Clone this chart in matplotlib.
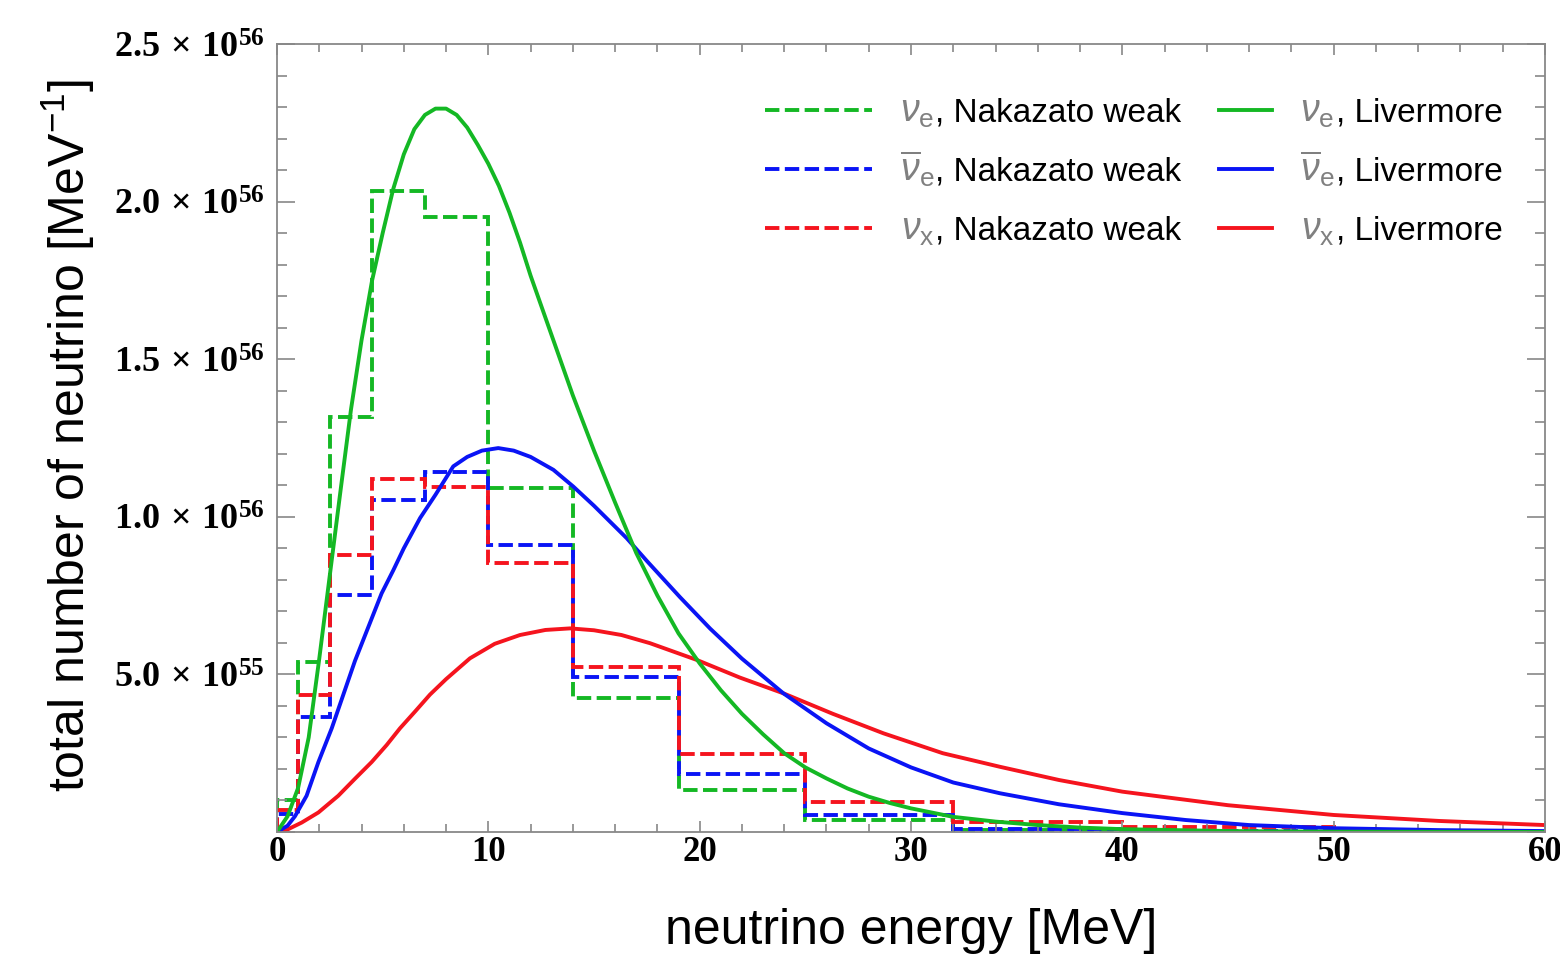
import numpy as np
import matplotlib.pyplot as plt
from matplotlib.ticker import MultipleLocator, FuncFormatter

plt.rcParams['font.family'] = 'Liberation Sans'
plt.rcParams['mathtext.fontset'] = 'custom'
plt.rcParams['mathtext.rm'] = 'Liberation Sans'
plt.rcParams['mathtext.it'] = 'Liberation Sans:italic'
plt.rcParams['mathtext.bf'] = 'Liberation Serif:bold'

UNIT = 1e56

# Nakazato weak model (binned), in units of 1e56 / MeV
bin_edges = [0, 1, 2.5, 4.5, 7, 10, 14, 19, 25, 32, 40, 50]
nak_nue = [0.100, 0.540, 1.317, 2.033, 1.950, 1.090, 0.424, 0.133, 0.038, 0.005, 0.001]
nak_nuebar = [0.057, 0.364, 0.752, 1.054, 1.142, 0.911, 0.492, 0.185, 0.054, 0.010, 0.002]
nak_nux = [0.070, 0.435, 0.879, 1.120, 1.094, 0.854, 0.523, 0.249, 0.094, 0.033, 0.015]

# Livermore model, in units of 1e56 / MeV
e_nue = [0, 0.5, 1.0, 1.5, 2.0, 2.5, 3.0, 3.5, 4.0, 4.5, 5.0, 5.5, 6.0, 6.5, 7.0, 7.5,
         8.0, 8.5, 9.0, 9.5, 10.0, 10.5, 11.0, 11.5, 12.0, 13, 14, 15, 16, 17, 18,
         19, 20, 21, 22, 23, 24, 25, 26, 27, 28, 29, 30, 32, 34, 36, 38, 40, 45, 50, 60]
liv_nue = [0, 0.05, 0.14, 0.30, 0.55, 0.815, 1.08, 1.34, 1.56, 1.75, 1.90, 2.04, 2.15,
           2.23, 2.275, 2.295, 2.295, 2.275, 2.235, 2.18, 2.12, 2.05, 1.965, 1.87,
           1.765, 1.575, 1.385, 1.21, 1.045, 0.885, 0.75, 0.63, 0.535, 0.45, 0.375,
           0.31, 0.25, 0.205, 0.17, 0.138, 0.112, 0.092, 0.075, 0.048, 0.033, 0.022,
           0.014, 0.009, 0.003, 0.001, 0.0]

e_nuebar = [0, 0.5, 0.85, 1.4, 1.96, 2.59, 3.14, 3.69, 4.32, 4.95, 5.5, 6.0, 6.77, 7.5,
            8.34, 9.0, 9.7, 10.47, 11.2, 12.0, 13.08, 14.02, 15.0, 16.55, 17.5, 19.07,
            20.5, 22.0, 23.96, 26.0, 28.0, 30.0, 32.0, 34.2, 37.0, 40, 43, 46, 50, 55, 60]
liv_nuebar = [0, 0.02, 0.05, 0.115, 0.222, 0.329, 0.436, 0.543, 0.65, 0.757, 0.83, 0.90,
              0.996, 1.07, 1.16, 1.19, 1.21, 1.218, 1.21, 1.19, 1.149, 1.096, 1.035,
              0.932, 0.86, 0.745, 0.645, 0.55, 0.44, 0.345, 0.265, 0.205, 0.157, 0.123,
              0.088, 0.06, 0.038, 0.022, 0.012, 0.006, 0.003]

e_nux = [0, 0.5, 1.17, 1.96, 2.9, 3.69, 4.48, 5.19, 5.82, 6.53, 7.24, 8.0, 9.13, 10.3,
         11.5, 12.7, 13.87, 15.0, 16.3, 17.65, 19.86, 21.9, 23.96, 26.3, 28.7, 31.5,
         34.2, 37.0, 40, 45, 50, 55, 60]
liv_nux = [0, 0.008, 0.03, 0.062, 0.115, 0.169, 0.222, 0.276, 0.329, 0.382, 0.436, 0.485,
           0.551, 0.597, 0.625, 0.641, 0.646, 0.64, 0.625, 0.599, 0.546, 0.49, 0.44,
           0.375, 0.313, 0.25, 0.207, 0.165, 0.128, 0.085, 0.054, 0.035, 0.022]

green = '#14b824'
blue = '#0a14f5'
red = '#f5141e'
lw = 2.8
dash = (3.7, 1.4)

fig = plt.figure(figsize=(15.6, 9.59), dpi=100)
ax = fig.add_axes([277 / 1560, 1 - 832 / 959, 1268 / 1560, 788 / 959])

edges = np.array(bin_edges)
h_nue = ax.stairs(np.array(nak_nue) * UNIT, edges, color=green, lw=lw, linestyle=(0, dash), baseline=0)
h_nuebar = ax.stairs(np.array(nak_nuebar) * UNIT, edges, color=blue, lw=lw, linestyle=(0, dash), baseline=0)
h_nux = ax.stairs(np.array(nak_nux) * UNIT, edges, color=red, lw=lw, linestyle=(0, dash), baseline=0)

l_nux, = ax.plot(e_nux, np.array(liv_nux) * UNIT, color=red, lw=lw)
l_nuebar, = ax.plot(e_nuebar, np.array(liv_nuebar) * UNIT, color=blue, lw=lw)
l_nue, = ax.plot(e_nue, np.array(liv_nue) * UNIT, color=green, lw=lw)

ax.set_xlim(0, 60)
ax.set_ylim(0, 2.5e56)

ax.xaxis.set_major_locator(MultipleLocator(10))
ax.xaxis.set_minor_locator(MultipleLocator(2))
ax.yaxis.set_major_locator(MultipleLocator(5e55))
ax.yaxis.set_minor_locator(MultipleLocator(1e55))


def sci_label(v, pos):
    if v <= 0:
        return ''
    ex = int(np.floor(np.log10(v) + 1e-9))
    mant = round(v / 10 ** ex, 1)
    return r'$\mathbf{%.1f\,\times\,10^{%d}}$' % (mant, ex)


ax.yaxis.set_major_formatter(FuncFormatter(sci_label))
ax.xaxis.set_major_formatter(FuncFormatter(lambda v, p: '%d' % v))

for lab in ax.get_xticklabels():
    lab.set_fontfamily('Liberation Serif')
    lab.set_fontweight('bold')
ax.tick_params(axis='x', labelsize=25, pad=3)
ax.tick_params(axis='y', labelsize=26, pad=9)
ax.tick_params(which='both', direction='in', top=True, right=True, color='#888888', width=1.2)
ax.tick_params(axis='y', which='major', length=13)
ax.tick_params(axis='y', which='minor', length=7)
ax.tick_params(axis='x', which='major', length=8)
ax.tick_params(axis='x', which='minor', length=5.5)
for s in ax.spines.values():
    s.set_color('#888888')
    s.set_linewidth(1.3)

ax.set_xlabel('neutrino energy [MeV]', fontsize=36, labelpad=28)
ax.set_ylabel('total number of neutrino [MeV$^{-1}$]', fontsize=36)
ax.yaxis.set_label_coords(-0.142, 0.503)

# legends: dashed (Nakazato) and solid (Livermore) columns
syms = [r'$\nu_\mathrm{e}$', r'$\overline{\nu}_\mathrm{e}$', r'$\nu_\mathrm{x}$']
leg_kw = dict(loc='upper right', frameon=False, fontsize=24, handletextpad=1.9,
              labelspacing=0.84)
leg1 = ax.legend([h_nue, h_nuebar, h_nux], [', Nakazato weak'] * 3,
                 bbox_to_anchor=(0.737, 0.97), handlelength=3.2, **leg_kw)
ax.add_artist(leg1)
leg2 = ax.legend([l_nue, l_nuebar, l_nux], [', Livermore'] * 3,
                 bbox_to_anchor=(0.99, 0.97), handlelength=1.6, **leg_kw)

# grey neutrino symbols in front of the legend labels
fig.canvas.draw()
inv = fig.transFigure.inverted()
for leg in (leg1, leg2):
    for t, s in zip(leg.get_texts(), syms):
        px = t.get_transform().transform(t.get_position())
        fx, fy = inv.transform(px - np.array([1.0, 0.0]))
        fig.text(fx, fy, s, ha='right', va='baseline', color='#808080', fontsize=27)

fig.savefig('out.png', dpi=100)
